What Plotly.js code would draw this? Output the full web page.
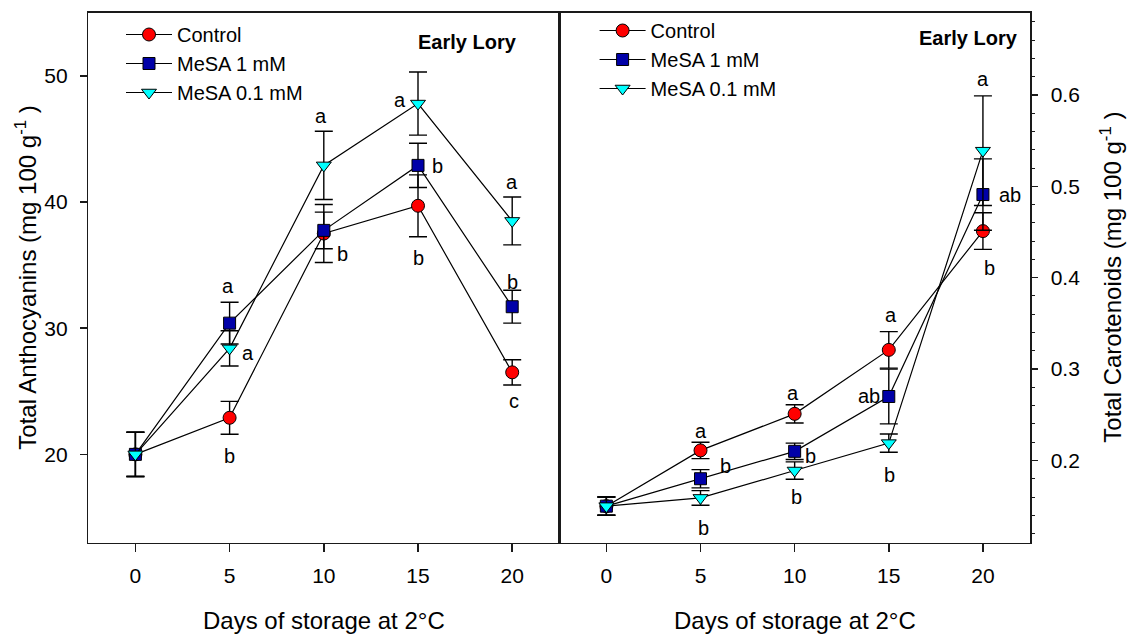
<!DOCTYPE html>
<html><head><meta charset="utf-8">
<script src="https://cdn.plot.ly/plotly-3.0.1.min.js"></script>
<style>html,body{margin:0;padding:0;background:#fff}#chart{width:1128px;height:634px}</style>
</head><body><div id="chart"></div>
<script>
// ---------- data ----------
const days = [0, 5, 10, 15, 20];
const seriesNames = ['Control', 'MeSA 1 mM', 'MeSA 0.1 mM'];
const panelLabel = 'Early Lory';
const xTitle = 'Days of storage at 2°C';
const anthTitle = 'Total Anthocyanins (mg 100 g<sup>-1</sup> )';
const carTitle = 'Total Carotenoids (mg 100 g<sup>-1</sup> )';
const xTickVals = [0, 5, 10, 15, 20];
const anthTickVals = [20, 30, 40, 50];
const carTickVals = [0.2, 0.3, 0.4, 0.5, 0.6];

// Total anthocyanins (mg 100 g-1)
const anthControl    = [20.0, 22.9, 37.5, 39.7, 26.5];
const anthControlErr = [1.75, 1.3, 2.3, 2.45, 1.0];
const anthMesa1      = [20.0, 30.4, 37.75, 42.9, 31.7];
const anthMesa1Err   = [1.75, 1.65, 1.45, 1.75, 1.3];
const anthMesa01     = [20.0, 28.4, 42.9, 47.8, 38.5];
const anthMesa01Err  = [1.75, 1.4, 2.7, 2.5, 1.9];
const anthControlLetters = ['', 'b', 'b', 'b', 'c'];
const anthMesa1Letters   = ['', 'a', '', 'b', 'b'];
const anthMesa01Letters  = ['', 'a', 'a', 'a', 'a'];

// Total carotenoids (mg 100 g-1)
const carControl    = [0.150, 0.211, 0.251, 0.321, 0.451];
const carControlErr = [0.010, 0.009, 0.010, 0.020, 0.020];
const carMesa1      = [0.150, 0.180, 0.210, 0.270, 0.491];
const carMesa1Err   = [0.010, 0.010, 0.009, 0.030, 0.039];
const carMesa01     = [0.150, 0.159, 0.189, 0.219, 0.539];
const carMesa01Err  = [0.010, 0.008, 0.0095, 0.010, 0.060];
const carControlLetters = ['', 'a', 'a', 'a', 'b'];
const carMesa1Letters   = ['', 'b', 'b', 'ab', 'ab'];
const carMesa01Letters  = ['', 'b', 'b', 'b', 'a'];

// ---------- style ----------
const FONT = 'Arial, "Liberation Sans", Helvetica, sans-serif';
const AX = '#1a1a1a';
const colors = ['#ff0000', '#0000a8', '#00ffff'];
const symbols = ['circle', 'square', 'triangle-down'];
const sizes = [13, 12, 13];
// letter label offsets in px [dx, dy(down)]
const anthOff = [
  [[0,0],[0,38],[19,20],[0,52],[2,29]],
  [[0,0],[-2,-37],[0,0],[19,1],[0,-25]],
  [[0,0],[18,5],[-3,-49],[-18,-4],[0,-39]]
];
const carOff = [
  [[0,0],[0,-19],[-2,-21],[2,-35],[7,37]],
  [[0,0],[25,-13],[16,5],[-20,0],[27,0]],
  [[0,0],[3,30],[2,26],[1,32],[0,-72]]
];

function mkTrace(i, y, err, xa, ya, leg) {
  return {
    type: 'scatter', mode: 'lines+markers', name: seriesNames[i],
    x: days, y: y, xaxis: xa, yaxis: ya, legend: leg,
    line: {color: '#000', width: 1.2},
    marker: {symbol: symbols[i], size: sizes[i], color: colors[i], line: {color: '#000', width: 1}},
    error_y: {type: 'data', array: err, visible: true, color: '#000', thickness: 1.4, width: 9},
    hoverinfo: 'skip'
  };
}

const traces = [
  mkTrace(0, anthControl, anthControlErr, 'x', 'y', 'legend'),
  mkTrace(1, anthMesa1, anthMesa1Err, 'x', 'y', 'legend'),
  mkTrace(2, anthMesa01, anthMesa01Err, 'x', 'y', 'legend'),
  mkTrace(0, carControl, carControlErr, 'x2', 'y2', 'legend2'),
  mkTrace(1, carMesa1, carMesa1Err, 'x2', 'y2', 'legend2'),
  mkTrace(2, carMesa01, carMesa01Err, 'x2', 'y2', 'legend2')
];

const annotations = [];
function addLetters(vals, letters, off, xr, yr) {
  letters.forEach((t, k) => {
    if (!t) return;
    annotations.push({
      x: days[k], y: vals[k], xref: xr, yref: yr, text: t, showarrow: false,
      xshift: off[k][0], yshift: -off[k][1],
      font: {family: FONT, size: 20, color: '#000'}
    });
  });
}
addLetters(anthControl, anthControlLetters, anthOff[0], 'x', 'y');
addLetters(anthMesa1, anthMesa1Letters, anthOff[1], 'x', 'y');
addLetters(anthMesa01, anthMesa01Letters, anthOff[2], 'x', 'y');
addLetters(carControl, carControlLetters, carOff[0], 'x2', 'y2');
addLetters(carMesa1, carMesa1Letters, carOff[1], 'x2', 'y2');
addLetters(carMesa01, carMesa01Letters, carOff[2], 'x2', 'y2');

const W = 1128, H = 634;
annotations.push(
  {xref: 'paper', yref: 'paper', x: 467.5 / W, y: 1 - 41.7 / H, text: '<b>' + panelLabel + '</b>', showarrow: false,
   xanchor: 'center', yanchor: 'middle', font: {family: FONT, size: 20, color: '#000'}},
  {xref: 'paper', yref: 'paper', x: 968.5 / W, y: 1 - 38.3 / H, text: '<b>' + panelLabel + '</b>', showarrow: false,
   xanchor: 'center', yanchor: 'middle', font: {family: FONT, size: 20, color: '#000'}},
  {xref: 'paper', yref: 'paper', x: 323.8 / W, y: 1 - 620 / H, text: xTitle, showarrow: false,
   xanchor: 'center', yanchor: 'middle', font: {family: FONT, size: 24, color: '#000'}},
  {xref: 'paper', yref: 'paper', x: 794.6 / W, y: 1 - 620 / H, text: xTitle, showarrow: false,
   xanchor: 'center', yanchor: 'middle', font: {family: FONT, size: 24, color: '#000'}},
  {xref: 'paper', yref: 'paper', x: 26 / W, y: 1 - 277.7 / H, text: anthTitle, showarrow: false, textangle: -90,
   xanchor: 'center', yanchor: 'middle', font: {family: FONT, size: 24, color: '#000'}},
  {xref: 'paper', yref: 'paper', x: 1111 / W, y: 1 - 277.7 / H, text: carTitle, showarrow: false, textangle: -90,
   xanchor: 'center', yanchor: 'middle', font: {family: FONT, size: 24, color: '#000'}}
);

const xCommon = {
  range: [-2.5, 22.5], tickmode: 'array', tickvals: xTickVals, ticks: 'outside', ticklen: 8, tickwidth: 1.5,
  tickcolor: AX, showline: true, linecolor: AX, linewidth: 1.5, mirror: true, showgrid: false, zeroline: false,
  tickfont: {family: FONT, size: 21, color: '#000'}, ticklabelstandoff: 6, fixedrange: true
};
const yTop = 1 - 12.7 / H, yBot = 1 - 542.7 / H;

const layout = {
  width: W, height: H, margin: {l: 0, r: 0, t: 0, b: 0},
  paper_bgcolor: '#fff', plot_bgcolor: '#fff', showlegend: true,
  font: {family: FONT, color: '#000'},
  xaxis: Object.assign({}, xCommon, {domain: [88.3 / W, 559.3 / W], anchor: 'y'}),
  xaxis2: Object.assign({}, xCommon, {domain: [559.3 / W, 1030 / W], anchor: 'y2'}),
  yaxis: {
    domain: [yBot, yTop], anchor: 'x', range: [13, 55], tickmode: 'array', tickvals: anthTickVals,
    ticks: 'outside', ticklen: 7, tickwidth: 1.5, tickcolor: AX, showline: true, linecolor: AX, linewidth: 1.5,
    mirror: true, showgrid: false, zeroline: false, tickfont: {family: FONT, size: 21, color: '#000'},
    ticklabelstandoff: 8, fixedrange: true
  },
  yaxis2: {
    domain: [yBot, yTop], anchor: 'x2', side: 'right', range: [0.11, 0.69], tickmode: 'array',
    tickvals: carTickVals, tickformat: '.1f',
    ticks: 'outside', ticklen: 6, tickwidth: 1.5, tickcolor: AX, showline: true, linecolor: AX, linewidth: 1.5,
    mirror: true, showgrid: false, zeroline: false, tickfont: {family: FONT, size: 21, color: '#000'},
    ticklabelstandoff: 9, fixedrange: true,
    minor: {tickmode: 'linear', tick0: 0, dtick: 0.02, ticks: 'outside', ticklen: 3, tickwidth: 1, tickcolor: AX, showgrid: false}
  },
  legend: {x: 121 / W, y: 1 - 15 / H, xanchor: 'left', yanchor: 'top', bgcolor: 'rgba(0,0,0,0)', borderwidth: 0,
    itemwidth: 46, font: {family: FONT, size: 20, color: '#000'}, traceorder: 'normal'},
  legend2: {x: 594.6 / W, y: 1 - 11 / H, xanchor: 'left', yanchor: 'top', bgcolor: 'rgba(0,0,0,0)', borderwidth: 0,
    itemwidth: 46, font: {family: FONT, size: 20, color: '#000'}, traceorder: 'normal'},
  annotations: annotations
};

Plotly.newPlot('chart', traces, layout, {staticPlot: true, displayModeBar: false});
</script></body></html>
